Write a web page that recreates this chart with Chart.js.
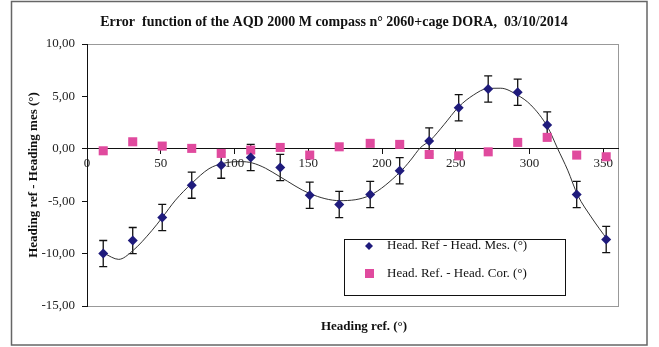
<!DOCTYPE html>
<html>
<head>
<meta charset="utf-8">
<script src="https://cdn.jsdelivr.net/npm/chart.js@4.4.1/dist/chart.umd.min.js"></script>
<style>
  body { margin: 0; background: #fff; }
</style>
</head>
<body>
<canvas id="errChart" width="659" height="347"></canvas>
<script>
// heading ref. (deg) of each measurement
const headingRef = [11, 31, 51, 71, 91, 111, 131, 151, 171, 192, 212, 232, 252, 272, 292, 312, 332, 352];
// Head. Ref - Head. Mes. (deg)
const errMes = [-10.0, -8.76, -6.55, -3.47, -1.56, -0.83, -1.78, -4.43, -5.32, -4.36, -2.1, 0.74, 3.92, 5.71, 5.39, 2.27, -4.36, -8.66];
// +/- uncertainty on the measured error
const errMesBar = [1.25, 1.25, 1.25, 1.25, 1.25, 1.25, 1.25, 1.25, 1.25, 1.25, 1.25, 1.25, 1.25, 1.25, 1.25, 1.25, 1.25, 1.25];
// Head. Ref. - Head. Cor. (deg)
const errCor = [-0.19, 0.67, 0.26, 0.04, -0.44, -0.12, 0.13, -0.6, 0.19, 0.52, 0.42, -0.54, -0.67, -0.29, 0.61, 1.09, -0.6, -0.76];
// trend curve
const trendX = [11.8, 21.5, 30.6, 44, 51, 60, 71, 82.7, 92, 104, 112, 121, 131, 151, 171.6, 192, 212.4, 219.4, 226, 232.9, 242, 252, 262, 271.4, 280.5, 291.8, 300.9, 312.2, 319, 325.9, 332.7, 341.8, 353.1];
const trendY = [-10.0, -10.55, -9.78, -7.8, -6.56, -4.9, -3.3, -1.9, -1.4, -1.22, -1.35, -1.85, -2.68, -4.27, -4.95, -4.43, -2.2, -1.08, 0.1, 0.83, 2.3, 4.0, 5.13, 5.75, 5.78, 5.13, 4.18, 2.1, 0.04, -2.04, -4.43, -6.5, -8.73];
const xTicks = [0, 50, 100, 150, 200, 250, 300, 350];
const yTicks = [-15, -10, -5, 0, 5, 10];

const serif = '"Liberation Serif", "Times New Roman", serif';
const navy = '#1f1b7c';
const pink = '#e04a9e';

const toPoints = (xs, ys) => xs.map((x, i) => ({ x: x, y: ys[i] }));

// error bars, frame, titles and legend drawn by hand
const extras = {
  id: 'extras',
  beforeDatasetsDraw(chart) {
    const ctx = chart.ctx;
    const xs = chart.scales.x, ys = chart.scales.y;
    ctx.save();
    ctx.strokeStyle = '#111';
    ctx.lineWidth = 1.3;
    headingRef.forEach((h, i) => {
      const px = xs.getPixelForValue(h);
      const top = ys.getPixelForValue(errMes[i] + errMesBar[i]);
      const bot = ys.getPixelForValue(errMes[i] - errMesBar[i]);
      ctx.beginPath();
      ctx.moveTo(px, top); ctx.lineTo(px, bot);
      ctx.moveTo(px - 4, top); ctx.lineTo(px + 4, top);
      ctx.moveTo(px - 4, bot); ctx.lineTo(px + 4, bot);
      ctx.stroke();
    });
    ctx.restore();
  },
  beforeDraw(chart) {
    const ctx = chart.ctx;
    const a = chart.chartArea;
    ctx.save();
    ctx.fillStyle = '#fff';
    ctx.fillRect(0, 0, chart.width, chart.height);
    // outer frame
    ctx.strokeStyle = '#666';
    ctx.lineWidth = 1.5;
    ctx.strokeRect(11.5, 1.5, 635.5, 343.5);
    // plot area frame
    ctx.strokeStyle = '#999';
    ctx.lineWidth = 1;
    ctx.strokeRect(a.left + 0.5, a.top + 0.5, a.right - a.left, a.bottom - a.top);
    ctx.restore();
  },
  afterDraw(chart) {
    const ctx = chart.ctx;
    const a = chart.chartArea;
    ctx.save();
    ctx.fillStyle = '#111';
    ctx.textAlign = 'center';
    ctx.textBaseline = 'middle';
    ctx.font = 'bold 14px ' + serif;
    ctx.fillText('Error  function of the AQD 2000 M compass n° 2060+cage DORA,  03/10/2014', 334, 22);
    ctx.font = 'bold 13px ' + serif;
    ctx.fillText('Heading ref. (°)', 364, 327);
    ctx.translate(34, (a.top + a.bottom) / 2);
    ctx.rotate(-Math.PI / 2);
    ctx.fillText('Heading ref - Heading mes (°)', 0, 0);
    ctx.restore();

    // legend
    ctx.save();
    ctx.fillStyle = '#fff';
    ctx.fillRect(344, 239, 222, 57);
    ctx.strokeStyle = '#111';
    ctx.lineWidth = 1;
    ctx.strokeRect(344.5, 239.5, 221, 56);
    ctx.fillStyle = navy;
    ctx.beginPath();
    ctx.moveTo(369, 242); ctx.lineTo(373, 246); ctx.lineTo(369, 250); ctx.lineTo(365, 246);
    ctx.closePath(); ctx.fill();
    ctx.fillStyle = pink;
    ctx.fillRect(365, 269, 9, 9);
    ctx.fillStyle = '#111';
    ctx.font = '13px ' + serif;
    ctx.textAlign = 'left';
    ctx.textBaseline = 'middle';
    ctx.fillText(chart.data.datasets[0].label, 387, 246);
    ctx.fillText(chart.data.datasets[1].label, 387, 273.5);
    // the box edge runs over the first entry
    ctx.beginPath();
    ctx.moveTo(344, 239.5); ctx.lineTo(566, 239.5);
    ctx.stroke();
    ctx.restore();
  }
};

new Chart(document.getElementById('errChart'), {
  type: 'scatter',
  data: {
    datasets: [
      {
        label: 'Head. Ref - Head. Mes. (°)',
        data: toPoints(headingRef, errMes),
        pointStyle: 'rectRot',
        pointRadius: 5,
        backgroundColor: navy,
        borderColor: navy,
        borderWidth: 0
      },
      {
        label: 'Head. Ref. - Head. Cor. (°)',
        data: toPoints(headingRef, errCor),
        pointStyle: 'rect',
        pointRadius: 6.4,
        backgroundColor: pink,
        borderColor: pink,
        borderWidth: 0
      },
      {
        type: 'line',
        label: 'trend',
        data: toPoints(trendX, trendY),
        borderColor: '#333',
        borderWidth: 1,
        pointRadius: 0,
        cubicInterpolationMode: 'monotone',
        fill: false
      }
    ]
  },
  options: {
    responsive: false,
    animation: false,
    devicePixelRatio: 1,
    layout: { padding: { top: 44, bottom: 41, left: 29, right: 41 } },
    plugins: {
      legend: { display: false },
      tooltip: { enabled: false }
    },
    scales: {
      x: {
        type: 'linear',
        min: 0,
        max: 360,
        position: { y: 0 },
        afterBuildTicks: s => { s.ticks = xTicks.map(v => ({ value: v })); },
        grid: { drawOnChartArea: false, drawTicks: true, tickLength: 5, color: '#111' },
        border: { display: true, color: '#111', width: 1 },
        ticks: { color: '#222', font: { family: serif, size: 13 }, padding: 2, maxRotation: 0 }
      },
      y: {
        min: -15,
        max: 10,
        afterFit: s => { s.width = 58; },
        afterBuildTicks: s => { s.ticks = yTicks.map(v => ({ value: v })); },
        grid: { drawOnChartArea: false, drawTicks: true, tickLength: 5, color: '#111' },
        border: { display: true, color: '#111', width: 1 },
        ticks: {
          color: '#222',
          font: { family: serif, size: 13 },
          padding: 7,
          callback: v => v.toFixed(2).replace('.', ',')
        }
      }
    }
  },
  plugins: [extras]
});
</script>
</body>
</html>
